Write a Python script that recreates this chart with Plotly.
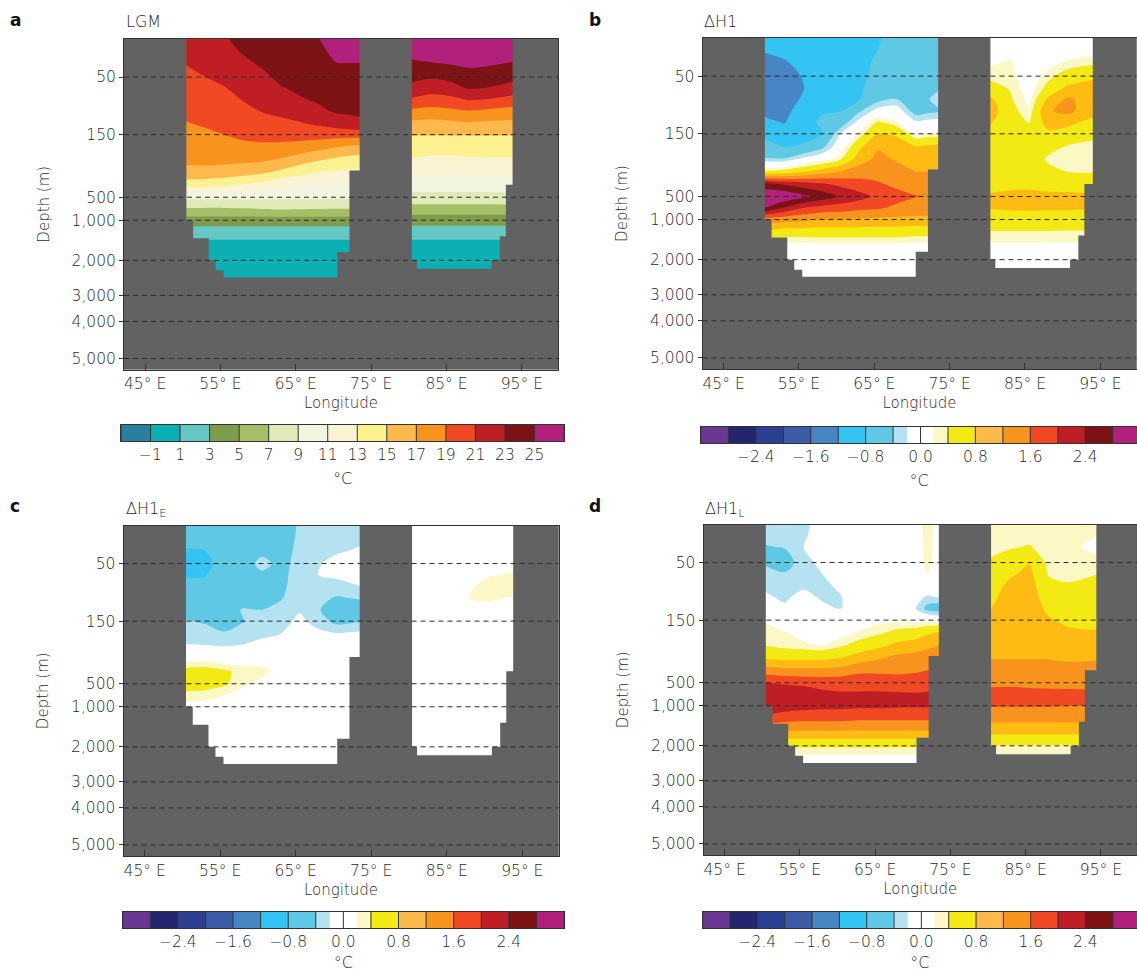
import numpy as np
import plotly.graph_objects as go

W, H = 1137, 972
FONT = "DejaVu Sans"
INK = "#1f1f1f"
LAND = "#626262"

# ---------- coordinates ----------
depths = [0, 15, 30, 50, 70, 90, 110, 130, 150, 220, 290, 360, 430, 500, 750, 1000, 1300, 1650, 2000, 2300, 2600]
lon_arabian = [50.2, 53, 55.5, 58, 60.5, 63, 65.5, 68, 70.5, 72, 73.8]
lon_bengal = [80.2, 83, 85.5, 88, 90.5, 94.6]

depth_scale_m = [0, 50, 150, 500, 1000, 2000, 3000, 4000, 5000, 5500]
depth_scale_pos = [0, 38, 95.5, 158, 181, 221, 256, 282, 319, 330]

depth_ticks = [50, 150, 500, 1000, 2000, 3000, 4000, 5000]
depth_labels = ["50", "150", "500", "1,000", "2,000", "3,000", "4,000", "5,000"]
dashed_depths = [50, 150, 500, 1000, 2000, 3000, 4000, 5000]
lon_ticks = [45, 55, 65, 75, 85, 95]
lon_labels = ["45° E", "55° E", "65° E", "75° E", "85° E", "95° E"]

# sea floor: edges in longitude, floor depth in each interval (0 = land)
floor_edges = [42, 50.48, 51.37, 53.45, 54.38, 55.44, 70.5, 72.12, 73.47, 80.41, 81.07, 90.98, 92.08, 92.88]
floor_depth = [0, 1000, 1450, 2000, 2285, 2490, 1800, 350, 0, 2000, 2240, 2000, 1400, 430, 0]
bengal_east = {"a": 93.77, "b": 94.0, "c": 93.8, "d": 94.4}

# ---------- colours ----------
temp_edges = [-3, -1, 1, 3, 5, 7, 9, 11, 13, 15, 17, 19, 21, 23, 25, 27]
temp_colors = ["#2a7f9e", "#0db0b2", "#66c8c5", "#7f9c4d", "#a5bf67", "#dfeab8", "#f2f6e0", "#faf3d4",
               "#fbf18f", "#fdb94b", "#f8931d", "#f04923", "#bf1f24", "#7d1315", "#b1207c"]
temp_ticks = [-1, 1, 3, 5, 7, 9, 11, 13, 15, 17, 19, 21, 23, 25]
temp_ticklabels = ["−1", "1", "3", "5", "7", "9", "11", "13", "15", "17", "19", "21", "23", "25"]

anom_edges = [-3.2, -2.8, -2.4, -2.0, -1.6, -1.2, -0.8, -0.4, -0.2, 0.0, 0.2, 0.4, 0.8, 1.2, 1.6, 2.0, 2.4, 2.8, 3.2]
anom_colors = ["#6b3795", "#23266f", "#2b3f93", "#3c5ba7", "#4686c4", "#33c4f3", "#5fc8e5", "#b5e2f0", "#ffffff",
               "#ffffff", "#fbf8c5", "#f3ea14", "#fdbb13", "#f8931d", "#f04923", "#bf1f24", "#7d1315", "#b1207c"]
anom_bar_colors = ["#6b3795", "#23266f", "#2b3f93", "#3c5ba7", "#4686c4", "#33c4f3", "#5fc8e5", "#b5e2f0", "#ffffff",
                   "#ffffff", "#fbf8c5", "#f3ea14", "#fdb94b", "#f8931d", "#f04923", "#bf1f24", "#7d1315", "#b1207c"]
anom_ticks = [-2.4, -1.6, -0.8, 0.0, 0.8, 1.6, 2.4]
anom_ticklabels = ["−2.4", "−1.6", "−0.8", "0.0", "0.8", "1.6", "2.4"]
anom_unseparated = [-0.2, 0.2]

# ---------- fields: one list per longitude, top to bottom ----------
lgm_arabian = [
    [22.6, 21.9, 21.1, 20.5, 20.1, 19.7, 19.3, 18.9, 18.5, 17.9, 17.4, 16.5, 13.9, 9.5, 6.8, 4.1, 1.9, 0.2, 0, -0.3, -0.5],
    [22.6, 22.1, 21.6, 21.0, 20.5, 20.1, 19.7, 19.2, 18.7, 18.1, 17.5, 16.4, 13.8, 9.5, 6.8, 4.1, 1.9, 0.2, 0, -0.3, -0.5],
    [22.8, 22.4, 22.0, 21.4, 20.9, 20.4, 19.9, 19.5, 19.0, 18.2, 17.5, 16.2, 13.4, 9.5, 6.8, 4.1, 1.9, 0.2, 0, -0.3, -0.5],
    [23.7, 23.2, 22.7, 22.1, 21.5, 21.05, 20.5, 19.9, 19.4, 18.5, 17.5, 15.8, 12.9, 9.5, 6.9, 4.1, 1.9, 0.2, 0, -0.3, -0.5],
    [24.3, 23.8, 23.3, 22.6, 22.1, 21.6, 21.05, 20.3, 19.6, 18.6, 17.3, 15.4, 12.2, 9.4, 7.05, 4.1, 1.9, 0.2, 0, -0.3, -0.5],
    [24.6, 24.3, 23.9, 23.4, 22.85, 22.1, 21.4, 20.6, 19.7, 18.5, 16.8, 14.5, 11.4, 9.4, 7.2, 4.1, 1.9, 0.2, 0, -0.3, -0.5],
    [24.9, 24.6, 24.2, 23.7, 23.3, 22.8, 21.8, 20.9, 19.8, 18.2, 16.0, 13.6, 11.1, 9.4, 7.1, 4.1, 1.9, 0.2, 0, -0.3, -0.5],
    [24.95, 24.7, 24.4, 24.0, 23.6, 23.2, 22.6, 21.3, 19.9, 17.6, 15.2, 13.0, 10.95, 9.4, 7.05, 4.1, 1.9, 0.2, 0, -0.3, -0.5],
    [25.9, 25.4, 25.05, 24.4, 24.0, 23.6, 23.2, 22.0, 19.8, 17.0, 14.6, 12.7, 10.8, 9.3, 7.0, 4.1, 1.9, 0.2, 0, -0.3, -0.5],
    [26.0, 25.5, 25.05, 24.45, 24.05, 23.65, 23.25, 22.4, 19.8, 16.6, 14.3, 12.6, 10.75, 9.3, 7.0, 4.1, 1.9, 0.2, 0, -0.3, -0.5],
    [26.0, 25.5, 25.05, 24.5, 24.1, 23.7, 23.3, 22.7, 19.8, 16.3, 14.1, 12.5, 10.7, 9.3, 7.0, 4.1, 1.9, 0.2, 0, -0.3, -0.5],
]
lgm_bengal = [
    [26.6, 25.7, 24.8, 23.6, 22.4, 20.75, 18.5, 16.6, 15.1, 14.0, 12.9, 11.5, 10.1, 8.3, 6.2, 3.9, 1.9, 0.2, 0, -0.3, -0.5],
    [26.6, 25.8, 25.05, 23.2, 21.8, 20.2, 18.2, 16.4, 15.1, 13.8, 12.6, 11.4, 10.0, 8.3, 6.2, 3.9, 1.9, 0.2, 0, -0.3, -0.5],
    [26.7, 25.9, 25.3, 23.6, 22.1, 20.4, 18.5, 16.6, 15.1, 13.8, 12.6, 11.4, 10.0, 8.3, 6.2, 3.9, 1.9, 0.2, 0, -0.3, -0.5],
    [26.7, 26.0, 25.5, 24.2, 23.1, 21.05, 18.8, 16.8, 15.1, 13.9, 12.7, 11.4, 10.0, 8.3, 6.2, 3.9, 1.9, 0.2, 0, -0.3, -0.5],
    [26.7, 26.0, 25.4, 24.0, 22.9, 20.8, 18.5, 16.6, 15.1, 13.9, 12.8, 11.4, 10.0, 8.3, 6.2, 3.9, 1.9, 0.2, 0, -0.3, -0.5],
    [26.8, 25.7, 24.9, 23.4, 22.0, 20.0, 18.1, 16.6, 15.1, 14.0, 12.8, 11.6, 10.2, 8.4, 6.2, 3.9, 1.9, 0.2, 0, -0.3, -0.5],
]

h1_arabian = [
    [-1.0, -1.15, -1.35, -1.45, -1.5, -1.45, -1.3, -1.1, -0.9, -0.6, -0.38, 0.45, 2.55, 3.2, 2.85, 1.4, 0.8, 0.1, 0, 0, 0],
    [-0.95, -1.1, -1.22, -1.4, -1.4, -1.33, -1.27, -1.22, -1.05, -0.82, -0.38, 0.5, 2.35, 3.15, 2.35, 1.35, 0.6, 0.1, 0, 0, 0],
    [-0.95, -1.0, -1.1, -1.18, -1.22, -1.17, -1.1, -1.02, -0.95, -0.76, -0.15, 0.72, 2.2, 2.9, 2.0, 1.3, 0.6, 0.1, 0, 0, 0],
    [-0.95, -0.95, -0.97, -1.0, -1.0, -1.0, -0.85, -0.72, -0.85, -0.5, 0.0, 1.0, 2.05, 2.65, 1.85, 1.2, 0.6, 0.12, 0, 0, 0],
    [-0.95, -0.95, -0.95, -0.95, -0.93, -0.9, -0.82, -0.6, -0.2, 0.0, 0.35, 1.2, 1.9, 2.35, 1.8, 1.2, 0.6, 0.12, 0, 0, 0],
    [-0.9, -0.9, -0.88, -0.87, -0.85, -0.82, -0.45, -0.1, 0.25, 0.7, 1.0, 1.4, 1.75, 2.15, 1.7, 1.15, 0.6, 0.12, 0, 0, 0],
    [-0.82, -0.8, -0.76, -0.72, -0.65, -0.5, -0.1, 0.45, 0.8, 1.15, 1.3, 1.4, 1.65, 1.9, 1.65, 1.1, 0.6, 0.12, 0, 0, 0],
    [-0.7, -0.7, -0.68, -0.65, -0.55, -0.4, -0.05, 0.2, 0.75, 0.95, 1.15, 1.35, 1.5, 1.75, 1.5, 1.1, 0.6, 0.12, 0, 0, 0],
    [-0.65, -0.65, -0.65, -0.65, -0.65, -0.62, -0.55, -0.15, 0.15, 0.8, 1.0, 1.2, 1.4, 1.62, 1.4, 1.1, 0.55, 0.1, 0, 0, 0],
    [-0.62, -0.62, -0.62, -0.6, -0.55, -0.45, -0.48, -0.12, 0.22, 0.85, 1.02, 1.2, 1.4, 1.58, 1.4, 1.1, 0.55, 0.1, 0, 0, 0],
    [-0.6, -0.6, -0.6, -0.55, -0.45, -0.2, -0.4, -0.1, 0.3, 0.9, 1.05, 1.2, 1.4, 1.55, 1.4, 1.1, 0.55, 0.1, 0, 0, 0],
]
h1_bengal = [
    [0, 0.05, 0.1, 0.35, 0.5, 0.9, 1.0, 0.85, 0.65, 0.6, 0.6, 0.6, 0.65, 0.85, 0.82, 0.6, 0.39, 0.15, 0.1, 0, 0],
    [0, 0.1, 0.22, 0.3, 0.38, 0.45, 0.55, 0.6, 0.7, 0.65, 0.65, 0.65, 0.7, 0.9, 0.85, 0.6, 0.39, 0.15, 0.1, 0, 0],
    [0, 0, 0, 0, 0.05, 0.12, 0.22, 0.38, 0.55, 0.65, 0.65, 0.65, 0.7, 0.92, 0.87, 0.6, 0.39, 0.15, 0.1, 0, 0],
    [0, 0, 0.05, 0.3, 0.5, 0.85, 1.15, 0.95, 0.7, 0.55, 0.35, 0.5, 0.65, 0.9, 0.85, 0.6, 0.39, 0.15, 0.1, 0, 0],
    [0, 0.05, 0.2, 0.55, 0.85, 1.25, 1.3, 0.95, 0.6, 0.39, 0.25, 0.4, 0.65, 0.88, 0.85, 0.6, 0.38, 0.15, 0.1, 0, 0],
    [0, 0.1, 0.3, 0.75, 0.95, 1.05, 0.95, 0.6, 0.5, 0.3, 0.25, 0.38, 0.6, 0.85, 0.82, 0.6, 0.38, 0.15, 0.05, 0, 0],
]

h1e_arabian = [
    [-0.6, -0.7, -0.8, -0.95, -0.83, -0.7, -0.6, -0.5, -0.38, -0.3, -0.18, 0.1, 0.5, 0.55, 0.32, 0.1, 0, 0, 0, 0, 0],
    [-0.6, -0.65, -0.78, -0.9, -0.82, -0.7, -0.65, -0.55, -0.43, -0.3, -0.19, 0.1, 0.55, 0.55, 0.28, 0.1, 0, 0, 0, 0, 0],
    [-0.6, -0.6, -0.65, -0.65, -0.6, -0.6, -0.6, -0.55, -0.5, -0.38, -0.2, 0.05, 0.45, 0.45, 0.2, 0.05, 0, 0, 0, 0, 0],
    [-0.6, -0.6, -0.55, -0.55, -0.55, -0.55, -0.55, -0.38, -0.41, -0.33, -0.18, 0.05, 0.32, 0.25, 0.1, 0, 0, 0, 0, 0, 0],
    [-0.55, -0.55, -0.5, -0.32, -0.45, -0.55, -0.5, -0.4, -0.33, -0.25, -0.12, 0.05, 0.28, 0.12, 0.05, 0, 0, 0, 0, 0, 0],
    [-0.5, -0.5, -0.5, -0.47, -0.47, -0.45, -0.42, -0.33, -0.28, -0.2, -0.05, 0.02, 0.1, 0.03, 0, 0, 0, 0, 0, 0, 0],
    [-0.38, -0.37, -0.35, -0.33, -0.3, -0.3, -0.28, -0.22, -0.15, -0.05, 0, 0, 0, 0, 0, 0, 0, 0, 0, 0, 0],
    [-0.33, -0.33, -0.3, -0.22, -0.2, -0.28, -0.35, -0.38, -0.28, -0.15, 0, 0, 0, 0, 0, 0, 0, 0, 0, 0, 0],
    [-0.3, -0.28, -0.25, -0.12, -0.15, -0.3, -0.42, -0.55, -0.48, -0.19, -0.02, 0, 0, 0, 0, 0, 0, 0, 0, 0, 0],
    [-0.3, -0.27, -0.22, -0.1, -0.12, -0.25, -0.4, -0.52, -0.45, -0.17, -0.01, 0, 0, 0, 0, 0, 0, 0, 0, 0, 0],
    [-0.3, -0.25, -0.18, -0.1, -0.12, -0.2, -0.38, -0.5, -0.41, -0.15, 0, 0, 0, 0, 0, 0, 0, 0, 0, 0, 0],
]
h1e_bengal = [
    [0, 0, 0, 0, 0, 0, 0, 0, 0, 0, 0, 0, 0, 0, 0, 0, 0, 0, 0, 0, 0],
    [0, 0, 0, 0, 0, 0, 0, 0, 0, 0, 0, 0, 0, 0, 0, 0, 0, 0, 0, 0, 0],
    [0, 0, 0, 0, 0, 0, 0, 0, 0, 0, 0, 0, 0, 0, 0, 0, 0, 0, 0, 0, 0],
    [0, 0, 0, 0, 0.02, 0.14, 0.21, 0.05, 0, 0, 0, 0, 0, 0, 0, 0, 0, 0, 0, 0, 0],
    [0, 0, 0, 0.05, 0.17, 0.32, 0.25, 0.08, 0, 0, 0, 0, 0, 0, 0, 0, 0, 0, 0, 0, 0],
    [0, 0, 0, 0.05, 0.27, 0.28, 0.15, 0.05, 0, 0, 0, 0, 0, 0, 0, 0, 0, 0, 0, 0, 0],
]

h1l_arabian = [
    [-0.3, -0.33, -0.42, -0.42, -0.33, -0.25, -0.15, -0.02, 0.18, 0.3, 0.4, 0.75, 1.4, 2.02, 2.25, 2.2, 1.95, 1.15, 0.45, 0.15, 0],
    [-0.3, -0.33, -0.39, -0.5, -0.38, -0.28, -0.25, -0.15, -0.05, 0.22, 0.3, 0.7, 1.3, 1.95, 2.25, 2.2, 1.8, 1.15, 0.45, 0.15, 0],
    [-0.3, -0.25, -0.2, -0.3, -0.3, -0.25, -0.1, -0.05, 0, 0.1, 0.25, 0.7, 1.3, 1.9, 2.25, 2.15, 1.75, 1.15, 0.45, 0.15, 0],
    [-0.02, -0.02, -0.05, -0.12, -0.2, -0.3, -0.25, -0.12, 0, 0.1, 0.2, 0.7, 1.3, 1.85, 2.1, 2.1, 1.75, 1.15, 0.45, 0.15, 0],
    [0, 0, 0, 0, -0.05, -0.1, -0.21, -0.21, -0.05, 0.1, 0.35, 0.8, 1.35, 1.85, 2.05, 2.1, 1.75, 1.15, 0.45, 0.15, 0],
    [0, 0, 0, 0, 0, 0, 0, 0, 0.1, 0.22, 0.55, 1.0, 1.5, 1.85, 2.05, 2.08, 1.7, 1.15, 0.45, 0.15, 0],
    [0, 0, 0, 0, 0, 0, 0, 0.02, 0.12, 0.35, 0.7, 1.15, 1.5, 1.85, 2.05, 2.08, 1.7, 1.15, 0.45, 0.15, 0],
    [0, 0, 0, 0, 0, 0, 0, 0.05, 0.15, 0.5, 0.9, 1.3, 1.5, 1.8, 2.05, 2.05, 1.7, 1.15, 0.45, 0.15, 0],
    [0.1, 0.1, 0.1, 0.12, 0.08, 0, -0.1, -0.22, 0.1, 0.6, 1.0, 1.35, 1.55, 1.8, 2.03, 2.05, 1.7, 1.15, 0.45, 0.15, 0],
    [0.3, 0.28, 0.26, 0.25, 0.2, 0.05, -0.25, -0.5, 0.1, 0.75, 1.1, 1.42, 1.6, 1.85, 2.05, 2.05, 1.7, 1.15, 0.45, 0.15, 0],
    [0.1, 0.05, 0.1, 0, 0, -0.05, -0.15, -0.6, 0.1, 0.85, 1.2, 1.5, 1.6, 1.85, 2.03, 2.05, 1.7, 1.15, 0.45, 0.15, 0],
]
h1l_bengal = [
    [0.3, 0.32, 0.36, 0.42, 0.5, 0.6, 0.7, 0.78, 0.9, 1.0, 1.1, 1.18, 1.35, 1.5, 1.75, 1.62, 1.35, 0.9, 0.38, 0.15, 0],
    [0.32, 0.34, 0.38, 0.55, 0.75, 0.9, 0.95, 1.0, 1.03, 1.07, 1.1, 1.18, 1.35, 1.52, 1.75, 1.62, 1.35, 0.9, 0.38, 0.15, 0],
    [0.3, 0.33, 0.42, 0.78, 0.9, 0.95, 0.95, 0.95, 1.0, 1.03, 1.1, 1.18, 1.35, 1.5, 1.72, 1.62, 1.35, 0.9, 0.38, 0.15, 0],
    [0.25, 0.25, 0.28, 0.32, 0.38, 0.5, 0.65, 0.75, 0.83, 0.95, 1.05, 1.18, 1.32, 1.5, 1.7, 1.62, 1.35, 0.9, 0.38, 0.15, 0],
    [0.25, 0.27, 0.28, 0.3, 0.35, 0.42, 0.55, 0.65, 0.75, 0.85, 1.0, 1.15, 1.3, 1.48, 1.7, 1.6, 1.35, 0.9, 0.38, 0.15, 0],
    [0.25, 0.2, 0.1, 0.3, 0.4, 0.5, 0.6, 0.65, 0.72, 0.82, 1.0, 1.17, 1.3, 1.45, 1.7, 1.6, 1.35, 0.9, 0.38, 0.15, 0],
]


# ---------- helpers ----------
def stretch(d):
    return np.interp(d, depth_scale_m, depth_scale_pos)


def contour_scale(start, end, size, edges, colors):
    nc = int(round((end - start) / size)) + 1
    out = []
    for k in range(-1, nc):
        mid = start + (k + 0.5) * size
        i = int(np.clip(np.searchsorted(edges, mid) - 1, 0, len(colors) - 1))
        lo = max((k + 0.5) / nc, 0)
        hi = min((k + 1.5) / nc, 1)
        out += [[lo, colors[i]], [hi, colors[i]]]
    return out


def dom_x(a, b):
    return [a / W, min(b / W, 1)]


def dom_y(top, bottom):
    return [1 - bottom / H, 1 - top / H]


panels = [
    dict(key="a", letter_xy=(15, 20), title="LGM", title_x=124, title_y=22, box=(124, 39, 558, 369.5),
         bar=(121, 425, 564, 441), fields=(lgm_arabian, lgm_bengal), kind="temp"),
    dict(key="b", letter_xy=(595, 20), title="ΔH1", title_x=702, title_y=22, box=(702.5, 38, 1136.5, 369),
         bar=(701, 427, 1137, 443), fields=(h1_arabian, h1_bengal), kind="anom"),
    dict(key="c", letter_xy=(15, 506), title="ΔH1<sub>E</sub>", title_x=124, title_y=509, box=(123.5, 525.5, 558.5, 856),
         bar=(122.7, 912, 564, 928), fields=(h1e_arabian, h1e_bengal), kind="anom"),
    dict(key="d", letter_xy=(595, 506), title="ΔH1<sub>L</sub>", title_x=703, title_y=509, box=(703.5, 524.5, 1137, 855),
         bar=(702.7, 912, 1137, 928), fields=(h1l_arabian, h1l_bengal), kind="anom"),
]

fig = go.Figure()
layout = {}
annotations = []
shapes = []
tick_font = dict(family=FONT, size=15.5, color=INK, weight=300)
label_font = dict(family=FONT, size=15, color=INK, weight=300)
title_font = dict(family=FONT, size=16, color=INK, weight=300)

for n, p in enumerate(panels):
    ax = 2 * n + 1
    bx = 2 * n + 2
    xa = "x" if ax == 1 else f"x{ax}"
    ya = "y" if ax == 1 else f"y{ax}"
    xb, yb = f"x{bx}", f"y{bx}"
    if p["kind"] == "temp":
        start, end, size, edges, colors, bar_colors = -3, 27, 2, temp_edges, temp_colors, temp_colors
        ticks, ticklabels = temp_ticks, temp_ticklabels
        seps = temp_edges
    else:
        start, end, size, edges, colors, bar_colors = -3.2, 3.2, 0.2, anom_edges, anom_colors, anom_bar_colors
        ticks, ticklabels = anom_ticks, anom_ticklabels
        seps = [e for e in anom_edges if e not in anom_unseparated]
    scale = contour_scale(start, end, size, edges, colors)

    # ocean fields
    for lons, by_lon in zip((lon_arabian, lon_bengal), p["fields"]):
        fig.add_trace(go.Contour(
            x=lons, y=stretch(depths), z=np.array(by_lon, dtype=float).T,
            colorscale=scale, zmin=start, zmax=end, autocontour=False,
            contours=dict(start=start, end=end, size=size, coloring="fill", showlines=False),
            line=dict(width=0, smoothing=0.9), showscale=False, hoverinfo="skip",
            xaxis=xa, yaxis=ya))

    # land and sea floor: one filled outline built from the floor table, drawn over the fields
    x_edges = floor_edges + [bengal_east[p["key"]], 100]
    floor_pos = stretch(floor_depth)
    out_x, out_y = [x_edges[0]], [330.0]
    for i, fp in enumerate(floor_pos):
        out_x += [x_edges[i], x_edges[i + 1]]
        out_y += [float(fp), float(fp)]
    out_x += [x_edges[-1], x_edges[0]]
    out_y += [330.0, 330.0]
    fig.add_trace(go.Scatter(x=out_x, y=out_y, mode="lines", fill="toself", fillcolor=LAND, line=dict(width=0),
                             hoverinfo="skip", showlegend=False, xaxis=xa, yaxis=ya))

    # dashed depth lines
    for d in dashed_depths:
        shapes.append(dict(type="line", xref=f"{xa} domain", yref=ya, x0=0, x1=1, y0=float(stretch(d)), y1=float(stretch(d)),
                           line=dict(color="#2a2a2a", width=1, dash="5px,4px"), layer="above"))

    L, T, R, B = p["box"]
    layout[f"xaxis{ax}"] = dict(domain=dom_x(L, R), range=[42.2, 99.8], tickvals=lon_ticks, ticktext=lon_labels,
                                ticks="inside", ticklen=6, tickcolor="#333", showline=True, mirror=True, linecolor="#333",
                                linewidth=1, showgrid=False, zeroline=False, tickfont=tick_font, anchor=ya,
                                ticklabelstandoff=0, title=dict(text="Longitude", font=label_font, standoff=5))
    layout[f"yaxis{ax}"] = dict(domain=dom_y(T, B), range=[330, 0], tickvals=stretch(depth_ticks).tolist(), ticktext=depth_labels,
                                ticks="outside", ticklen=4, tickcolor="#333", showline=True, mirror=True, linecolor="#333",
                                linewidth=1, showgrid=False, zeroline=False, tickfont=tick_font, anchor=xa,
                                title=dict(text="Depth (m)", font=label_font, standoff=18))

    # colour bar as its own small axes
    bl, bt, br, bb = p["bar"]
    fig.add_trace(go.Heatmap(
        x=edges, y=[0, 1], z=[list(range(len(bar_colors)))],
        colorscale=[s for i, c in enumerate(bar_colors) for s in ([i / len(bar_colors), c], [(i + 1) / len(bar_colors), c])],
        zmin=-0.5, zmax=len(bar_colors) - 0.5, showscale=False, hoverinfo="skip", xaxis=xb, yaxis=yb))
    sx, sy = [], []
    for e in seps:
        sx += [e, e, None]
        sy += [0, 1, None]
    fig.add_trace(go.Scatter(x=sx, y=sy, mode="lines", line=dict(color="#333", width=1), hoverinfo="skip",
                             showlegend=False, xaxis=xb, yaxis=yb))
    bar_max = edges[-1] if br < W else edges[-1] - (edges[-1] - edges[0]) * 0.007
    layout[f"xaxis{bx}"] = dict(domain=dom_x(bl, br), range=[edges[0], bar_max], tickvals=ticks, ticktext=ticklabels, ticks="",
                                showline=True, mirror=True, linecolor="#333", linewidth=1, showgrid=False, zeroline=False,
                                tickfont=tick_font, anchor=yb, ticklabelstandoff=-1,
                                title=dict(text="°C", font=title_font, standoff=10))
    layout[f"yaxis{bx}"] = dict(domain=dom_y(bt, bb), range=[0, 1], showticklabels=False, ticks="", showline=True, mirror=True,
                                linecolor="#333", linewidth=1, showgrid=False, zeroline=False, anchor=xb)

    # panel letter and title
    lx, ly = p["letter_xy"]
    annotations.append(dict(text=f"<b>{p['key']}</b>", x=lx / W, y=1 - ly / H, xref="paper", yref="paper", showarrow=False,
                            xanchor="center", yanchor="middle", font=dict(family=FONT, size=17, color="#111")))
    annotations.append(dict(text=p["title"], x=p["title_x"] / W, y=1 - p["title_y"] / H, xref="paper", yref="paper",
                            showarrow=False, xanchor="left", yanchor="middle", font=title_font))

fig.update_layout(width=W, height=H, autosize=False, margin=dict(l=0, r=0, t=0, b=0), paper_bgcolor="white",
                  plot_bgcolor=LAND, showlegend=False, annotations=annotations, shapes=shapes, font=dict(family=FONT), **layout)
fig.write_html("out.html", config=dict(displayModeBar=False),
               post_script="document.body.style.margin='0';document.documentElement.style.overflow='hidden';")
